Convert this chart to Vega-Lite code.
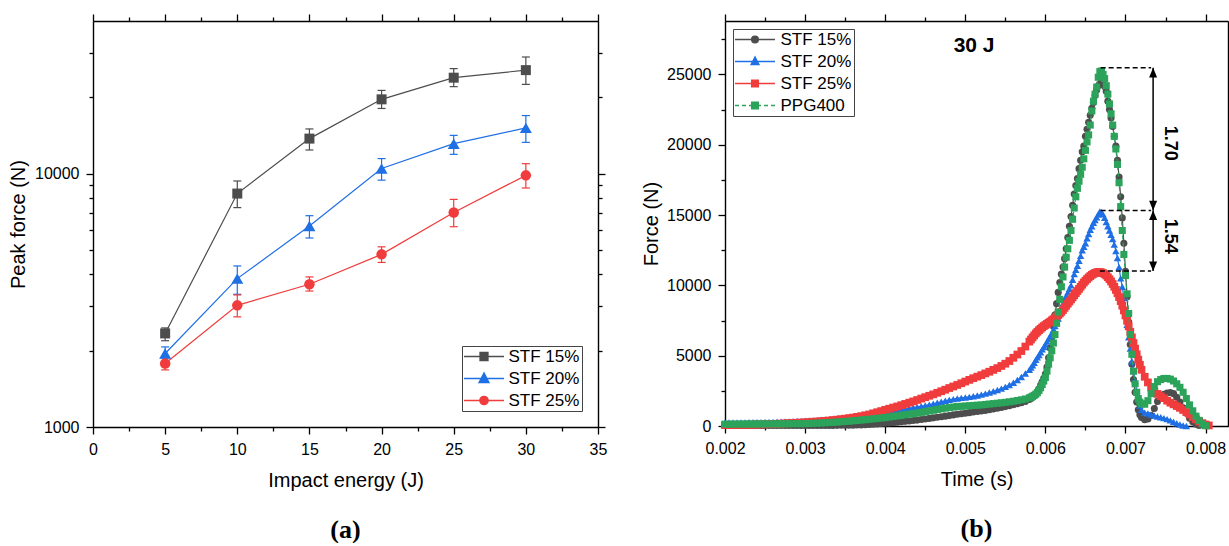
{
"$schema": "https://vega.github.io/schema/vega-lite/v6.json",
"background": "white",
"padding": {"left": 8, "top": 13, "right": 0, "bottom": 0},
"spacing": 34,
"datasets": {
"a": [
{"s":"STF 15%","e":5,"f":2340,"lo":2190,"hi":2460},
{"s":"STF 15%","e":10,"f":8340,"lo":7340,"hi":9350},
{"s":"STF 15%","e":15,"f":13740,"lo":12390,"hi":15000},
{"s":"STF 15%","e":20,"f":19630,"lo":18070,"hi":21290},
{"s":"STF 15%","e":25,"f":23900,"lo":22030,"hi":25950},
{"s":"STF 15%","e":30,"f":25600,"lo":22490,"hi":28840},
{"s":"STF 20%","e":5,"f":1950,"lo":1870,"hi":2070},
{"s":"STF 20%","e":10,"f":3850,"lo":3340,"hi":4320},
{"s":"STF 20%","e":15,"f":6210,"lo":5570,"hi":6820},
{"s":"STF 20%","e":20,"f":10470,"lo":9420,"hi":11460},
{"s":"STF 20%","e":25,"f":13120,"lo":11910,"hi":14150},
{"s":"STF 20%","e":30,"f":15140,"lo":13280,"hi":16940},
{"s":"STF 25%","e":5,"f":1780,"lo":1680,"hi":1880},
{"s":"STF 25%","e":10,"f":3020,"lo":2720,"hi":3320},
{"s":"STF 25%","e":15,"f":3660,"lo":3440,"hi":3910},
{"s":"STF 25%","e":20,"f":4800,"lo":4460,"hi":5140},
{"s":"STF 25%","e":25,"f":7020,"lo":6170,"hi":7910},
{"s":"STF 25%","e":30,"f":9840,"lo":8770,"hi":10940}
],
"g": [
{"t":0.002,"f":30},{"t":0.00205,"f":30},{"t":0.0021,"f":30},{"t":0.00215,"f":30},{"t":0.0022,"f":30},{"t":0.00225,"f":30},{"t":0.0023,"f":30},{"t":0.00235,"f":30},{"t":0.0024,"f":30},{"t":0.00245,"f":30},{"t":0.0025,"f":30},{"t":0.00255,"f":30},{"t":0.0026,"f":30},{"t":0.00265,"f":30},{"t":0.0027,"f":30},{"t":0.00275,"f":30},{"t":0.0028,"f":30},{"t":0.00285,"f":30},{"t":0.0029,"f":30},{"t":0.00295,"f":30},
{"t":0.003,"f":30},{"t":0.00305,"f":32},{"t":0.0031,"f":34},{"t":0.00315,"f":36},{"t":0.0032,"f":38},{"t":0.00325,"f":40},{"t":0.0033,"f":42},{"t":0.00335,"f":44},{"t":0.0034,"f":46},{"t":0.00345,"f":48},{"t":0.0035,"f":50},{"t":0.00355,"f":55},{"t":0.0036,"f":60},{"t":0.00365,"f":70},{"t":0.0037,"f":80},{"t":0.00375,"f":95},{"t":0.0038,"f":110},{"t":0.00385,"f":130},{"t":0.0039,"f":150},{"t":0.00395,"f":170},
{"t":0.004,"f":190},{"t":0.00405,"f":215},{"t":0.0041,"f":240},{"t":0.00415,"f":270},{"t":0.0042,"f":300},{"t":0.00425,"f":330},{"t":0.0043,"f":360},{"t":0.00435,"f":390},{"t":0.0044,"f":420},{"t":0.00445,"f":460},{"t":0.0045,"f":500},{"t":0.00455,"f":540},{"t":0.0046,"f":580},{"t":0.00465,"f":620},{"t":0.0047,"f":660},{"t":0.00475,"f":700},{"t":0.0048,"f":740},{"t":0.00485,"f":790},{"t":0.0049,"f":830},{"t":0.00495,"f":870},
{"t":0.005,"f":910},{"t":0.00505,"f":950},{"t":0.0051,"f":990},{"t":0.00515,"f":1030},{"t":0.0052,"f":1070},{"t":0.00525,"f":1110},{"t":0.0053,"f":1160},{"t":0.00535,"f":1210},{"t":0.0054,"f":1260},{"t":0.00545,"f":1320},{"t":0.0055,"f":1380},{"t":0.00555,"f":1440},{"t":0.0056,"f":1510},{"t":0.00565,"f":1580},{"t":0.0057,"f":1660},{"t":0.00575,"f":1750},{"t":0.0058,"f":1880},
{"t":0.00582,"f":1960},{"t":0.00584,"f":2050},{"t":0.00586,"f":2150},{"t":0.00588,"f":2280},{"t":0.0059,"f":2450},{"t":0.00592,"f":2650},{"t":0.00594,"f":2900},{"t":0.00596,"f":3150},{"t":0.00598,"f":3400},
{"t":0.006,"f":3700},{"t":0.00602,"f":4200},{"t":0.00604,"f":4850},{"t":0.00606,"f":5550},{"t":0.00608,"f":6250},{"t":0.0061,"f":7100},{"t":0.00612,"f":7900},{"t":0.00614,"f":8700},{"t":0.00616,"f":9500},{"t":0.00618,"f":10200},
{"t":0.0062,"f":10800},{"t":0.00622,"f":11300},{"t":0.00624,"f":11900},{"t":0.00626,"f":12600},{"t":0.00628,"f":13400},{"t":0.0063,"f":14200},{"t":0.00632,"f":14900},{"t":0.00634,"f":15700},{"t":0.00636,"f":16500},{"t":0.00638,"f":17100},
{"t":0.0064,"f":17600},{"t":0.00642,"f":18300},{"t":0.00644,"f":18900},{"t":0.00646,"f":19500},{"t":0.00648,"f":19900},{"t":0.0065,"f":20600},{"t":0.00652,"f":21100},{"t":0.00654,"f":21600},{"t":0.00656,"f":22100},{"t":0.00658,"f":22600},
{"t":0.0066,"f":23000},{"t":0.00662,"f":23500},{"t":0.00664,"f":23900},{"t":0.00666,"f":24200},{"t":0.00668,"f":24350},{"t":0.0067,"f":24400},{"t":0.00672,"f":24300},{"t":0.00674,"f":24150},{"t":0.00676,"f":23800},{"t":0.00678,"f":23100},
{"t":0.0068,"f":22500},{"t":0.00682,"f":21900},{"t":0.00684,"f":21300},{"t":0.00686,"f":20600},{"t":0.00688,"f":19900},{"t":0.0069,"f":18900},{"t":0.00692,"f":17700},{"t":0.00694,"f":16300},{"t":0.00696,"f":14800},{"t":0.00698,"f":13000},
{"t":0.007,"f":11000},{"t":0.00702,"f":9200},{"t":0.00704,"f":7400},{"t":0.00706,"f":5800},{"t":0.00708,"f":4400},{"t":0.0071,"f":3300},{"t":0.00712,"f":2400},{"t":0.00714,"f":1700},{"t":0.00716,"f":1150},{"t":0.00718,"f":800},{"t":0.0072,"f":600},
{"t":0.00724,"f":450},{"t":0.00728,"f":500},{"t":0.00732,"f":750},{"t":0.00736,"f":1250},{"t":0.0074,"f":1750},{"t":0.00744,"f":2050},{"t":0.00748,"f":2250},{"t":0.00752,"f":2350},{"t":0.00756,"f":2380},{"t":0.0076,"f":2300},{"t":0.00764,"f":2050},{"t":0.00768,"f":1700},{"t":0.00772,"f":1300},{"t":0.00776,"f":900},{"t":0.0078,"f":550},{"t":0.00784,"f":300},{"t":0.00788,"f":130},{"t":0.00792,"f":30}
],
"b": [
{"t":0.002,"f":250},{"t":0.00205,"f":250},{"t":0.0021,"f":255},{"t":0.00215,"f":255},{"t":0.0022,"f":260},{"t":0.00225,"f":260},{"t":0.0023,"f":265},{"t":0.00235,"f":265},{"t":0.0024,"f":270},{"t":0.00245,"f":275},{"t":0.0025,"f":280},{"t":0.00255,"f":285},{"t":0.0026,"f":290},{"t":0.00265,"f":300},{"t":0.0027,"f":310},{"t":0.00275,"f":320},{"t":0.0028,"f":330},{"t":0.00285,"f":340},{"t":0.0029,"f":350},{"t":0.00295,"f":360},
{"t":0.003,"f":370},{"t":0.00305,"f":385},{"t":0.0031,"f":400},{"t":0.00315,"f":420},{"t":0.0032,"f":440},{"t":0.00325,"f":460},{"t":0.0033,"f":480},{"t":0.00335,"f":505},{"t":0.0034,"f":530},{"t":0.00345,"f":555},{"t":0.0035,"f":580},{"t":0.00355,"f":610},{"t":0.0036,"f":640},{"t":0.00365,"f":680},{"t":0.0037,"f":720},{"t":0.00375,"f":760},{"t":0.0038,"f":800},{"t":0.00385,"f":840},{"t":0.0039,"f":880},{"t":0.00395,"f":920},
{"t":0.004,"f":960},{"t":0.00405,"f":1010},{"t":0.0041,"f":1060},{"t":0.00415,"f":1110},{"t":0.0042,"f":1160},{"t":0.00425,"f":1210},{"t":0.0043,"f":1260},{"t":0.00435,"f":1310},{"t":0.0044,"f":1360},{"t":0.00445,"f":1410},{"t":0.0045,"f":1460},{"t":0.00455,"f":1520},{"t":0.0046,"f":1580},{"t":0.00465,"f":1650},{"t":0.0047,"f":1720},{"t":0.00475,"f":1790},{"t":0.0048,"f":1860},{"t":0.00485,"f":1910},{"t":0.0049,"f":1960},{"t":0.00495,"f":2000},
{"t":0.005,"f":2030},{"t":0.00505,"f":2070},{"t":0.0051,"f":2120},{"t":0.00515,"f":2170},{"t":0.0052,"f":2230},{"t":0.00525,"f":2300},{"t":0.0053,"f":2380},{"t":0.00535,"f":2470},{"t":0.0054,"f":2560},{"t":0.00545,"f":2660},{"t":0.0055,"f":2780},{"t":0.00555,"f":2920},{"t":0.0056,"f":3080},{"t":0.00565,"f":3270},{"t":0.0057,"f":3480},{"t":0.00575,"f":3730},{"t":0.0058,"f":4000},
{"t":0.00582,"f":4150},{"t":0.00584,"f":4320},{"t":0.00586,"f":4500},{"t":0.00588,"f":4700},{"t":0.0059,"f":4880},{"t":0.00592,"f":5050},{"t":0.00594,"f":5250},{"t":0.00596,"f":5450},{"t":0.00598,"f":5620},
{"t":0.006,"f":5800},{"t":0.00602,"f":6000},{"t":0.00604,"f":6200},{"t":0.00606,"f":6400},{"t":0.00608,"f":6600},{"t":0.0061,"f":6850},{"t":0.00612,"f":7100},{"t":0.00614,"f":7350},{"t":0.00616,"f":7650},{"t":0.00618,"f":8000},
{"t":0.0062,"f":8350},{"t":0.00622,"f":8700},{"t":0.00624,"f":9000},{"t":0.00626,"f":9250},{"t":0.00628,"f":9500},{"t":0.0063,"f":9750},{"t":0.00632,"f":10000},{"t":0.00634,"f":10400},{"t":0.00636,"f":10800},{"t":0.00638,"f":11100},
{"t":0.0064,"f":11400},{"t":0.00642,"f":11750},{"t":0.00644,"f":12100},{"t":0.00646,"f":12500},{"t":0.00648,"f":12750},{"t":0.0065,"f":13000},{"t":0.00652,"f":13350},{"t":0.00654,"f":13650},{"t":0.00656,"f":13950},{"t":0.00658,"f":14200},
{"t":0.0066,"f":14450},{"t":0.00662,"f":14650},{"t":0.00664,"f":14850},{"t":0.00666,"f":15050},{"t":0.00668,"f":15250},{"t":0.0067,"f":15200},{"t":0.00672,"f":15050},{"t":0.00674,"f":14800},{"t":0.00676,"f":14500},{"t":0.00678,"f":14200},
{"t":0.0068,"f":13900},{"t":0.00682,"f":13600},{"t":0.00684,"f":13300},{"t":0.00686,"f":12900},{"t":0.00688,"f":12450},{"t":0.0069,"f":11950},{"t":0.00692,"f":11300},{"t":0.00694,"f":10500},{"t":0.00696,"f":9900},{"t":0.00698,"f":9100},
{"t":0.007,"f":8200},{"t":0.00702,"f":7200},{"t":0.00704,"f":6300},{"t":0.00706,"f":5500},{"t":0.00708,"f":4600},{"t":0.0071,"f":3900},{"t":0.00712,"f":3200},{"t":0.00714,"f":2500},{"t":0.00716,"f":1900},{"t":0.00718,"f":1450},{"t":0.0072,"f":1150},
{"t":0.00724,"f":950},{"t":0.00728,"f":900},{"t":0.00732,"f":820},{"t":0.00736,"f":740},{"t":0.0074,"f":680},{"t":0.00744,"f":620},{"t":0.00748,"f":560},{"t":0.00752,"f":490},{"t":0.00756,"f":400},{"t":0.0076,"f":300},{"t":0.00764,"f":200},{"t":0.00768,"f":110},{"t":0.00772,"f":40},{"t":0.00776,"f":0}
],
"r": [
{"t":0.002,"f":60},{"t":0.00205,"f":65},{"t":0.0021,"f":70},{"t":0.00215,"f":75},{"t":0.0022,"f":80},{"t":0.00225,"f":85},{"t":0.0023,"f":90},{"t":0.00235,"f":95},{"t":0.0024,"f":100},{"t":0.00245,"f":110},{"t":0.0025,"f":120},{"t":0.00255,"f":130},{"t":0.0026,"f":140},{"t":0.00265,"f":155},{"t":0.0027,"f":170},{"t":0.00275,"f":185},{"t":0.0028,"f":200},{"t":0.00285,"f":215},{"t":0.0029,"f":230},{"t":0.00295,"f":245},
{"t":0.003,"f":260},{"t":0.00305,"f":280},{"t":0.0031,"f":300},{"t":0.00315,"f":320},{"t":0.0032,"f":340},{"t":0.00325,"f":365},{"t":0.0033,"f":390},{"t":0.00335,"f":420},{"t":0.0034,"f":450},{"t":0.00345,"f":485},{"t":0.0035,"f":520},{"t":0.00355,"f":560},{"t":0.0036,"f":600},{"t":0.00365,"f":650},{"t":0.0037,"f":700},{"t":0.00375,"f":760},{"t":0.0038,"f":820},{"t":0.00385,"f":900},{"t":0.0039,"f":980},{"t":0.00395,"f":1060},
{"t":0.004,"f":1150},{"t":0.00405,"f":1230},{"t":0.0041,"f":1310},{"t":0.00415,"f":1390},{"t":0.0042,"f":1480},{"t":0.00425,"f":1570},{"t":0.0043,"f":1660},{"t":0.00435,"f":1750},{"t":0.0044,"f":1850},{"t":0.00445,"f":1950},{"t":0.0045,"f":2050},{"t":0.00455,"f":2150},{"t":0.0046,"f":2250},{"t":0.00465,"f":2360},{"t":0.0047,"f":2470},{"t":0.00475,"f":2580},{"t":0.0048,"f":2700},{"t":0.00485,"f":2810},{"t":0.0049,"f":2920},{"t":0.00495,"f":3040},
{"t":0.005,"f":3160},{"t":0.00505,"f":3280},{"t":0.0051,"f":3400},{"t":0.00515,"f":3510},{"t":0.0052,"f":3620},{"t":0.00525,"f":3740},{"t":0.0053,"f":3860},{"t":0.00535,"f":3990},{"t":0.0054,"f":4120},{"t":0.00545,"f":4270},{"t":0.0055,"f":4430},{"t":0.00555,"f":4620},{"t":0.0056,"f":4850},{"t":0.00565,"f":5080},{"t":0.0057,"f":5330},{"t":0.00575,"f":5650},{"t":0.0058,"f":6000},
{"t":0.00582,"f":6150},{"t":0.00584,"f":6300},{"t":0.00586,"f":6440},{"t":0.00588,"f":6580},{"t":0.0059,"f":6700},{"t":0.00592,"f":6810},{"t":0.00594,"f":6910},{"t":0.00596,"f":7010},{"t":0.00598,"f":7100},
{"t":0.006,"f":7180},{"t":0.00602,"f":7260},{"t":0.00604,"f":7340},{"t":0.00606,"f":7420},{"t":0.00608,"f":7510},{"t":0.0061,"f":7600},{"t":0.00612,"f":7690},{"t":0.00614,"f":7790},{"t":0.00616,"f":7890},{"t":0.00618,"f":8000},
{"t":0.0062,"f":8120},{"t":0.00622,"f":8250},{"t":0.00624,"f":8400},{"t":0.00626,"f":8550},{"t":0.00628,"f":8700},{"t":0.0063,"f":8850},{"t":0.00632,"f":9000},{"t":0.00634,"f":9150},{"t":0.00636,"f":9300},{"t":0.00638,"f":9450},
{"t":0.0064,"f":9600},{"t":0.00642,"f":9750},{"t":0.00644,"f":9900},{"t":0.00646,"f":10050},{"t":0.00648,"f":10200},{"t":0.0065,"f":10330},{"t":0.00652,"f":10450},{"t":0.00654,"f":10560},{"t":0.00656,"f":10660},{"t":0.00658,"f":10750},
{"t":0.0066,"f":10820},{"t":0.00662,"f":10880},{"t":0.00664,"f":10920},{"t":0.00666,"f":10950},{"t":0.00668,"f":10950},{"t":0.0067,"f":10920},{"t":0.00672,"f":10870},{"t":0.00674,"f":10800},{"t":0.00676,"f":10700},{"t":0.00678,"f":10580},
{"t":0.0068,"f":10440},{"t":0.00682,"f":10280},{"t":0.00684,"f":10100},{"t":0.00686,"f":9900},{"t":0.00688,"f":9680},{"t":0.0069,"f":9440},{"t":0.00692,"f":9170},{"t":0.00694,"f":8880},{"t":0.00696,"f":8560},{"t":0.00698,"f":8220},
{"t":0.007,"f":7860},{"t":0.00702,"f":7480},{"t":0.00704,"f":7090},{"t":0.00706,"f":6700},{"t":0.00708,"f":6300},{"t":0.0071,"f":5900},{"t":0.00712,"f":5500},{"t":0.00714,"f":5100},{"t":0.00716,"f":4720},{"t":0.00718,"f":4350},{"t":0.0072,"f":4000},
{"t":0.00724,"f":3500},{"t":0.00728,"f":3100},{"t":0.00732,"f":2750},{"t":0.00736,"f":2480},{"t":0.0074,"f":2280},{"t":0.00744,"f":2120},{"t":0.00748,"f":1980},{"t":0.00752,"f":1800},{"t":0.00756,"f":1660},{"t":0.0076,"f":1540},{"t":0.00764,"f":1420},{"t":0.00768,"f":1290},{"t":0.00772,"f":1140},{"t":0.00776,"f":990},{"t":0.0078,"f":820},{"t":0.00784,"f":640},{"t":0.00788,"f":470},{"t":0.00792,"f":320},{"t":0.00796,"f":200},{"t":0.008,"f":110},{"t":0.00804,"f":40}
],
"p": [
{"t":0.002,"f":130},{"t":0.00205,"f":130},{"t":0.0021,"f":132},{"t":0.00215,"f":134},{"t":0.0022,"f":136},{"t":0.00225,"f":138},{"t":0.0023,"f":140},{"t":0.00235,"f":142},{"t":0.0024,"f":144},{"t":0.00245,"f":146},{"t":0.0025,"f":148},{"t":0.00255,"f":150},{"t":0.0026,"f":152},{"t":0.00265,"f":154},{"t":0.0027,"f":156},{"t":0.00275,"f":158},{"t":0.0028,"f":160},{"t":0.00285,"f":163},{"t":0.0029,"f":166},{"t":0.00295,"f":168},
{"t":0.003,"f":170},{"t":0.00305,"f":180},{"t":0.0031,"f":190},{"t":0.00315,"f":200},{"t":0.0032,"f":215},{"t":0.00325,"f":230},{"t":0.0033,"f":245},{"t":0.00335,"f":260},{"t":0.0034,"f":280},{"t":0.00345,"f":300},{"t":0.0035,"f":320},{"t":0.00355,"f":345},{"t":0.0036,"f":370},{"t":0.00365,"f":395},{"t":0.0037,"f":420},{"t":0.00375,"f":450},{"t":0.0038,"f":480},{"t":0.00385,"f":510},{"t":0.0039,"f":540},{"t":0.00395,"f":570},
{"t":0.004,"f":600},{"t":0.00405,"f":640},{"t":0.0041,"f":680},{"t":0.00415,"f":720},{"t":0.0042,"f":760},{"t":0.00425,"f":800},{"t":0.0043,"f":840},{"t":0.00435,"f":880},{"t":0.0044,"f":920},{"t":0.00445,"f":970},{"t":0.0045,"f":1020},{"t":0.00455,"f":1070},{"t":0.0046,"f":1120},{"t":0.00465,"f":1170},{"t":0.0047,"f":1220},{"t":0.00475,"f":1270},{"t":0.0048,"f":1310},{"t":0.00485,"f":1350},{"t":0.0049,"f":1380},{"t":0.00495,"f":1400},
{"t":0.005,"f":1420},{"t":0.00505,"f":1440},{"t":0.0051,"f":1460},{"t":0.00515,"f":1480},{"t":0.0052,"f":1500},{"t":0.00525,"f":1530},{"t":0.0053,"f":1560},{"t":0.00535,"f":1590},{"t":0.0054,"f":1620},{"t":0.00545,"f":1650},{"t":0.0055,"f":1680},{"t":0.00555,"f":1720},{"t":0.0056,"f":1760},{"t":0.00565,"f":1810},{"t":0.0057,"f":1860},{"t":0.00575,"f":1920},{"t":0.0058,"f":2000},
{"t":0.00582,"f":2050},{"t":0.00584,"f":2110},{"t":0.00586,"f":2180},{"t":0.00588,"f":2260},{"t":0.0059,"f":2370},{"t":0.00592,"f":2530},{"t":0.00594,"f":2720},{"t":0.00596,"f":2950},{"t":0.00598,"f":3200},
{"t":0.006,"f":3450},{"t":0.00602,"f":3900},{"t":0.00604,"f":4400},{"t":0.00606,"f":4850},{"t":0.00608,"f":5350},{"t":0.0061,"f":5900},{"t":0.00612,"f":6500},{"t":0.00614,"f":7300},{"t":0.00616,"f":8100},{"t":0.00618,"f":9000},
{"t":0.0062,"f":9900},{"t":0.00622,"f":10600},{"t":0.00624,"f":11300},{"t":0.00626,"f":12000},{"t":0.00628,"f":12600},{"t":0.0063,"f":13200},{"t":0.00632,"f":13900},{"t":0.00634,"f":14700},{"t":0.00636,"f":15500},{"t":0.00638,"f":16300},
{"t":0.0064,"f":16900},{"t":0.00642,"f":17400},{"t":0.00644,"f":17900},{"t":0.00646,"f":18400},{"t":0.00648,"f":19000},{"t":0.0065,"f":19600},{"t":0.00652,"f":20200},{"t":0.00654,"f":20700},{"t":0.00656,"f":21400},{"t":0.00658,"f":22400},
{"t":0.0066,"f":23100},{"t":0.00662,"f":23600},{"t":0.00664,"f":24100},{"t":0.00666,"f":24800},{"t":0.00668,"f":25200},{"t":0.0067,"f":25250},{"t":0.00672,"f":25000},{"t":0.00674,"f":24700},{"t":0.00676,"f":24200},{"t":0.00678,"f":23600},
{"t":0.0068,"f":22900},{"t":0.00682,"f":22200},{"t":0.00684,"f":21400},{"t":0.00686,"f":20600},{"t":0.00688,"f":19700},{"t":0.0069,"f":18600},{"t":0.00692,"f":17300},{"t":0.00694,"f":15600},{"t":0.00696,"f":13900},{"t":0.00698,"f":12200},
{"t":0.007,"f":10700},{"t":0.00702,"f":9400},{"t":0.00704,"f":8000},{"t":0.00706,"f":6500},{"t":0.00708,"f":5100},{"t":0.0071,"f":3900},{"t":0.00712,"f":3000},{"t":0.00714,"f":2400},{"t":0.00716,"f":1950},{"t":0.00718,"f":1700},{"t":0.0072,"f":1580},
{"t":0.00724,"f":1550},{"t":0.00728,"f":1800},{"t":0.00732,"f":2300},{"t":0.00736,"f":2800},{"t":0.0074,"f":3150},{"t":0.00744,"f":3300},{"t":0.00748,"f":3380},{"t":0.00752,"f":3380},{"t":0.00756,"f":3330},{"t":0.0076,"f":3200},{"t":0.00764,"f":3000},{"t":0.00768,"f":2750},{"t":0.00772,"f":2400},{"t":0.00776,"f":1950},{"t":0.0078,"f":1500},{"t":0.00784,"f":1080},{"t":0.00788,"f":700},{"t":0.00792,"f":400},{"t":0.00796,"f":150},{"t":0.008,"f":20}
]
},
"hconcat": [
{
"width": 505, "height": 406,
"title": {"text": "(a)", "orient": "bottom", "anchor": "middle", "frame": "group", "font": "Liberation Serif", "fontSize": 26, "fontWeight": "bold", "color": "black", "offset": 27},
"data": {"name": "a"},
"layer": [
{"mark": {"type": "line", "strokeWidth": 1.2},
 "encoding": {
  "x": {"field": "e", "type": "quantitative", "scale": {"domain": [0, 35], "nice": false, "zero": false},
        "axis": {"orient": "bottom", "title": "Impact energy (J)", "values": [0,2.5,5,7.5,10,12.5,15,17.5,20,22.5,25,27.5,30,32.5,35], "labelExpr": "datum.value % 5 === 0 ? datum.label : ''", "tickSize": {"condition": {"test": "datum.value % 5 === 0", "value": 7}, "value": 4}, "labelPadding": 7, "titlePadding": 13}},
  "y": {"field": "f", "type": "quantitative", "scale": {"type": "log", "domain": [1000, 40000], "nice": false},
        "axis": {"orient": "left", "title": "Peak force (N)", "values": [1000,2000,3000,4000,5000,6000,7000,8000,9000,10000,20000,30000], "format": "d", "labelExpr": "datum.value === 1000 || datum.value === 10000 ? datum.label : ''", "tickSize": {"condition": {"test": "datum.value === 1000 || datum.value === 10000", "value": 7}, "value": 4}, "labelPadding": 7, "titlePadding": 6}},
  "color": {"field": "s", "type": "nominal", "scale": {"domain": ["STF 15%", "STF 20%", "STF 25%"], "range": ["#4d4d4d", "#1f6fe5", "#f03c3c"]},
        "legend": {"title": null, "orient": "bottom-right", "offset": 16, "strokeColor": "#444", "padding": 2, "rowPadding": 4, "labelFontSize": 17, "symbolOffset": -8.5, "labelOffset": 36, "symbolSize": 64,
          "encode": {"symbols": {"update": {
            "shape": {"signal": "datum.value === 'STF 15%' ? 'M0,0H10M4,-1H6V1H4Z' : datum.value === 'STF 20%' ? 'M0,0H10M5,-1.4L6.25,1H3.75Z' : 'M0,0H10M6.05,0A1.05,1.05,0,1,1,3.95,0A1.05,1.05,0,1,1,6.05,0Z'"},
            "size": {"value": 64},
            "fill": {"signal": "datum.value === 'STF 15%' ? '#4d4d4d' : datum.value === 'STF 20%' ? '#1f6fe5' : '#f03c3c'"},
            "stroke": {"signal": "datum.value === 'STF 15%' ? '#4d4d4d' : datum.value === 'STF 20%' ? '#1f6fe5' : '#f03c3c'"},
            "strokeWidth": {"value": 1.3}, "opacity": {"value": 1}}}}}}
 }},
{"mark": {"type": "rule", "strokeWidth": 1.2},
 "encoding": {"x": {"field": "e", "type": "quantitative", "axis": null}, "y": {"field": "lo", "type": "quantitative", "axis": null}, "y2": {"field": "hi"}, "color": {"field": "s", "type": "nominal"}}},
{"mark": {"type": "tick", "orient": "horizontal", "size": 8, "thickness": 1.2, "opacity": 1},
 "encoding": {"x": {"field": "e", "type": "quantitative", "axis": null}, "y": {"field": "lo", "type": "quantitative", "axis": null}, "color": {"field": "s", "type": "nominal"}}},
{"mark": {"type": "tick", "orient": "horizontal", "size": 8, "thickness": 1.2, "opacity": 1},
 "encoding": {"x": {"field": "e", "type": "quantitative", "axis": null}, "y": {"field": "hi", "type": "quantitative", "axis": null}, "color": {"field": "s", "type": "nominal"}}},
{"transform": [{"filter": "datum.s === 'STF 15%'"}],
 "mark": {"type": "point", "shape": "square", "filled": true, "size": 100, "opacity": 1},
 "encoding": {"x": {"field": "e", "type": "quantitative", "axis": null}, "y": {"field": "f", "type": "quantitative", "axis": null}, "color": {"field": "s", "type": "nominal"}}},
{"transform": [{"filter": "datum.s === 'STF 20%'"}],
 "mark": {"type": "point", "shape": "triangle-up", "filled": true, "size": 144, "opacity": 1},
 "encoding": {"x": {"field": "e", "type": "quantitative", "axis": null}, "y": {"field": "f", "type": "quantitative", "axis": null}, "color": {"field": "s", "type": "nominal"}}},
{"transform": [{"filter": "datum.s === 'STF 25%'"}],
 "mark": {"type": "point", "shape": "circle", "filled": true, "size": 110, "opacity": 1},
 "encoding": {"x": {"field": "e", "type": "quantitative", "axis": null}, "y": {"field": "f", "type": "quantitative", "axis": null}, "color": {"field": "s", "type": "nominal"}}},
{"mark": {"type": "point", "opacity": 0},
 "encoding": {
  "x": {"field": "e", "type": "quantitative", "axis": {"orient": "top", "title": null, "labels": false, "values": [0,2.5,5,7.5,10,12.5,15,17.5,20,22.5,25,27.5,30,32.5,35], "tickSize": {"condition": {"test": "datum.value % 5 === 0", "value": 7}, "value": 4}}},
  "y": {"field": "f", "type": "quantitative", "axis": {"orient": "right", "title": null, "labels": false, "values": [1000,2000,3000,4000,5000,6000,7000,8000,9000,10000,20000,30000], "tickSize": {"condition": {"test": "datum.value === 1000 || datum.value === 10000", "value": 7}, "value": 4}}}
 }}
],
"resolve": {"axis": {"x": "independent", "y": "independent"}}
},
{
"width": 503, "height": 405,
"title": {"text": "(b)", "orient": "bottom", "anchor": "middle", "frame": "group", "font": "Liberation Serif", "fontSize": 26, "fontWeight": "bold", "color": "black", "offset": 27},
"layer": [
{"data": {"name": "g"}, "mark": {"type": "line", "strokeWidth": 1.2},
 "encoding": {
  "x": {"field": "t", "type": "quantitative", "scale": {"domain": [0.002, 0.00828], "nice": false, "zero": false},
        "axis": {"orient": "bottom", "title": "Time (s)", "values": [0.002,0.0025,0.003,0.0035,0.004,0.0045,0.005,0.0055,0.006,0.0065,0.007,0.0075,0.008], "format": ".3f", "labelExpr": "abs(datum.value*1000 - round(datum.value*1000)) < 0.01 ? datum.label : ''", "tickSize": {"condition": {"test": "abs(datum.value*1000 - round(datum.value*1000)) < 0.01", "value": 7}, "value": 4}, "labelPadding": 7, "titlePadding": 13}},
  "y": {"field": "f", "type": "quantitative", "scale": {"domain": [0, 28800], "nice": false},
        "axis": {"orient": "left", "title": "Force (N)", "values": [0,2500,5000,7500,10000,12500,15000,17500,20000,22500,25000,27500], "format": "d", "labelExpr": "datum.value % 5000 === 0 ? datum.label : ''", "tickSize": {"condition": {"test": "datum.value % 5000 === 0", "value": 7}, "value": 4}, "labelPadding": 7, "titlePadding": 5}},
  "color": {"datum": "STF 15%", "type": "nominal", "scale": {"domain": ["STF 15%", "STF 20%", "STF 25%", "PPG400"], "range": ["#4d4d4d", "#1f6fe5", "#f03c3c", "#2ba35a"]},
        "legend": {"title": null, "orient": "top-left", "offset": 8, "strokeColor": "#444", "padding": 2, "rowPadding": 4, "labelFontSize": 17, "symbolOffset": -8.5, "labelOffset": 37, "symbolSize": 64,
          "encode": {"symbols": {"update": {
            "shape": {"signal": "datum.value === 'STF 15%' ? 'M0,0H10M5.85,0A0.85,0.85,0,1,1,4.15,0A0.85,0.85,0,1,1,5.85,0Z' : datum.value === 'STF 20%' ? 'M0,0H10M5,-1.15L6,0.8H4Z' : datum.value === 'STF 25%' ? 'M0,0H10M4.15,-0.85H5.85V0.85H4.15Z' : 'M0,0H1M1.75,0H2.75M3.5,0H4M6,0H6.5M7.25,0H8.25M9,0H10M4.15,-0.85H5.85V0.85H4.15Z'"},
            "size": {"value": 64},
            "fill": {"signal": "datum.value === 'STF 15%' ? '#4d4d4d' : datum.value === 'STF 20%' ? '#1f6fe5' : datum.value === 'STF 25%' ? '#f03c3c' : '#2ba35a'"},
            "stroke": {"signal": "datum.value === 'STF 15%' ? '#4d4d4d' : datum.value === 'STF 20%' ? '#1f6fe5' : datum.value === 'STF 25%' ? '#f03c3c' : '#2ba35a'"},
            "strokeWidth": {"value": 1.3}, "opacity": {"value": 1}}}}}}
 }},
{"data": {"name": "g"}, "mark": {"type": "point", "shape": "circle", "filled": true, "size": 50, "opacity": 1},
 "encoding": {"x": {"field": "t", "type": "quantitative", "axis": null}, "y": {"field": "f", "type": "quantitative", "axis": null}, "color": {"datum": "STF 15%", "type": "nominal"}}},
{"data": {"name": "b"}, "mark": {"type": "line", "strokeWidth": 1.2},
 "encoding": {"x": {"field": "t", "type": "quantitative", "axis": null}, "y": {"field": "f", "type": "quantitative", "axis": null}, "color": {"datum": "STF 20%", "type": "nominal"}}},
{"data": {"name": "b"}, "mark": {"type": "point", "shape": "triangle-up", "filled": true, "size": 55, "opacity": 1},
 "encoding": {"x": {"field": "t", "type": "quantitative", "axis": null}, "y": {"field": "f", "type": "quantitative", "axis": null}, "color": {"datum": "STF 20%", "type": "nominal"}}},
{"data": {"name": "r"}, "mark": {"type": "line", "strokeWidth": 1.2},
 "encoding": {"x": {"field": "t", "type": "quantitative", "axis": null}, "y": {"field": "f", "type": "quantitative", "axis": null}, "color": {"datum": "STF 25%", "type": "nominal"}}},
{"data": {"name": "r"}, "mark": {"type": "point", "shape": "square", "filled": true, "size": 60, "opacity": 1},
 "encoding": {"x": {"field": "t", "type": "quantitative", "axis": null}, "y": {"field": "f", "type": "quantitative", "axis": null}, "color": {"datum": "STF 25%", "type": "nominal"}}},
{"data": {"name": "p"}, "mark": {"type": "line", "strokeWidth": 1.2, "strokeDash": [4, 3]},
 "encoding": {"x": {"field": "t", "type": "quantitative", "axis": null}, "y": {"field": "f", "type": "quantitative", "axis": null}, "color": {"datum": "PPG400", "type": "nominal"}}},
{"data": {"name": "p"}, "mark": {"type": "point", "shape": "square", "filled": true, "size": 50, "opacity": 1},
 "encoding": {"x": {"field": "t", "type": "quantitative", "axis": null}, "y": {"field": "f", "type": "quantitative", "axis": null}, "color": {"datum": "PPG400", "type": "nominal"}}},
{"data": {"values": [{"t1": 0.00669, "t2": 0.00732, "f": 25470}, {"t1": 0.00669, "t2": 0.00732, "f": 15330}, {"t1": 0.00668, "t2": 0.00732, "f": 11020}]},
 "mark": {"type": "rule", "color": "black", "strokeWidth": 1.5, "strokeDash": [5, 3]},
 "encoding": {"x": {"field": "t1", "type": "quantitative", "axis": null}, "x2": {"field": "t2"}, "y": {"field": "f", "type": "quantitative", "axis": null}}},
{"data": {"values": [{"t": 0.007345, "f1": 15330, "f2": 25470}, {"t": 0.007345, "f1": 11020, "f2": 15330}]},
 "mark": {"type": "rule", "color": "black", "strokeWidth": 1.5},
 "encoding": {"x": {"field": "t", "type": "quantitative", "axis": null}, "y": {"field": "f1", "type": "quantitative", "axis": null}, "y2": {"field": "f2"}}},
{"data": {"values": [{"t": 0.007345, "f": 25470, "d": "up"}, {"t": 0.007345, "f": 15330, "d": "down"}, {"t": 0.007345, "f": 15330, "d": "up"}, {"t": 0.007345, "f": 11020, "d": "down"}]},
 "mark": {"type": "point", "filled": true, "color": "black", "size": 64, "opacity": 1},
 "encoding": {"x": {"field": "t", "type": "quantitative", "axis": null}, "y": {"field": "f", "type": "quantitative", "axis": null},
  "shape": {"field": "d", "type": "nominal", "scale": {"domain": ["up", "down"], "range": ["M0,0L1,2.4L-1,2.4Z", "M0,0L1,-2.4L-1,-2.4Z"]}, "legend": null}}},
{"data": {"values": [{"t": 0.00756, "f": 20100, "label": "1.70"}, {"t": 0.00756, "f": 13500, "label": "1.54"}]},
 "mark": {"type": "text", "angle": 90, "align": "center", "baseline": "middle", "font": "Liberation Sans", "fontSize": 18, "fontWeight": "bold", "color": "black"},
 "encoding": {"x": {"field": "t", "type": "quantitative", "axis": null}, "y": {"field": "f", "type": "quantitative", "axis": null}, "text": {"field": "label"}}},
{"data": {"values": [{"t": 0.00511, "f": 27000, "label": "30 J"}]},
 "mark": {"type": "text", "align": "center", "baseline": "middle", "font": "Liberation Sans", "fontSize": 21, "fontWeight": "bold", "color": "black"},
 "encoding": {"x": {"field": "t", "type": "quantitative", "axis": null}, "y": {"field": "f", "type": "quantitative", "axis": null}, "text": {"field": "label"}}},
{"data": {"name": "g"}, "mark": {"type": "point", "opacity": 0},
 "encoding": {
  "x": {"field": "t", "type": "quantitative", "axis": {"orient": "top", "title": null, "labels": false, "values": [0.002,0.0025,0.003,0.0035,0.004,0.0045,0.005,0.0055,0.006,0.0065,0.007,0.0075,0.008], "tickSize": {"condition": {"test": "abs(datum.value*1000 - round(datum.value*1000)) < 0.01", "value": 7}, "value": 4}}},
  "y": {"field": "f", "type": "quantitative", "axis": {"orient": "right", "title": null, "labels": false, "values": [0,2500,5000,7500,10000,12500,15000,17500,20000,22500,25000,27500], "tickSize": {"condition": {"test": "datum.value % 5000 === 0", "value": 7}, "value": 4}}}
 }}
],
"resolve": {"axis": {"x": "independent", "y": "independent"}, "scale": {"shape": "independent"}}
}
],
"resolve": {"scale": {"color": "independent", "shape": "independent"}, "legend": {"color": "independent", "shape": "independent"}},
"config": {
 "font": "Liberation Sans",
 "view": {"stroke": null},
 "axis": {"labelFont": "Liberation Sans", "titleFont": "Liberation Sans", "labelColor": "black", "titleColor": "black", "titleFontWeight": "normal", "labelFontSize": 16, "titleFontSize": 20, "domainColor": "black", "tickColor": "black", "domainWidth": 1.4, "tickWidth": 1.3, "grid": false, "labelFlush": false, "labelOverlap": false, "labelBound": false},
 "legend": {"labelFont": "Liberation Sans", "labelColor": "black", "labelFontSize": 17}
}
}
